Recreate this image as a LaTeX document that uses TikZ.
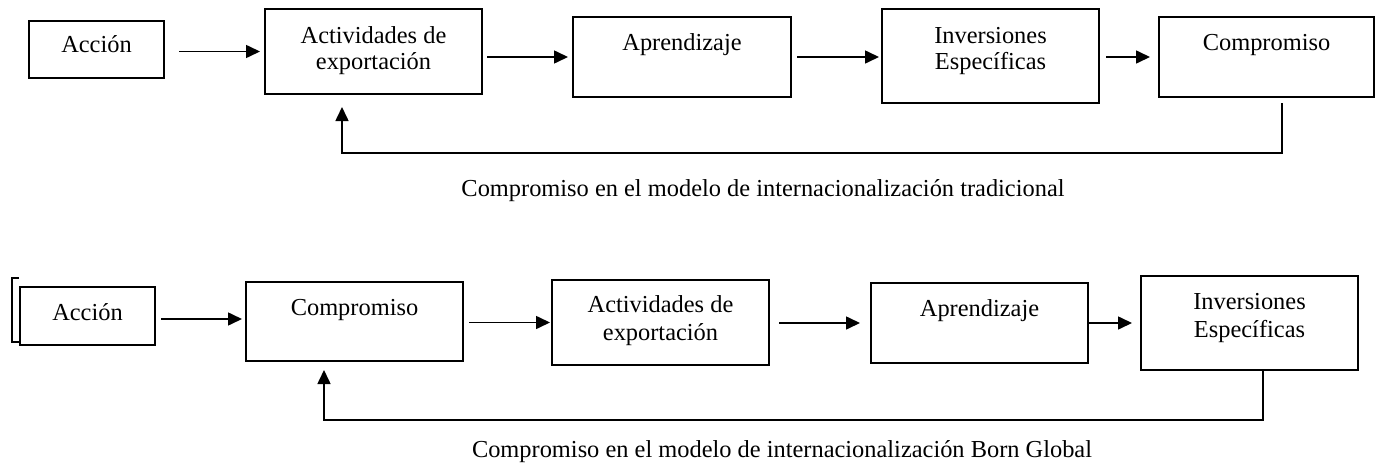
\documentclass[tikz,border=0pt]{standalone}
\usepackage{fontspec}
\setmainfont{Liberation Serif}
\usetikzlibrary{arrows.meta}
\begin{document}
\begin{tikzpicture}[x=1pt,y=-1pt,
  box/.style={draw=black,line width=1.6pt,inner sep=0pt,outer sep=0pt},
  txt/.style={anchor=base,inner sep=0pt,font=\fontsize{24.4}{28}\selectfont},
  arr/.style={line width=1.6pt,-{Triangle[length=14pt,width=13pt]}},
  fb/.style={line width=1.6pt}]
\useasboundingbox (0,0) rectangle (1376,463);
% ---------- top row ----------
\node[box,minimum width=135pt,minimum height=57pt] (A1) at (96.5,49.5) {};
\node[box,minimum width=217pt,minimum height=85pt] (B1) at (373.5,51.5) {};
\node[box,minimum width=218pt,minimum height=80pt] (C1) at (682,57) {};
\node[box,minimum width=217pt,minimum height=94pt] (D1) at (990.5,56) {};
\node[box,minimum width=215pt,minimum height=80pt] (E1) at (1266.5,57) {};
\node[txt] (A1t) at (96.5,52) {Acción};
\node[txt] (B1t1) at (373.5,43) {Actividades de};
\node[txt] (B1t2) at (373.5,69.5) {exportación};
\node[txt] (C1t) at (682,50) {Aprendizaje};
\node[txt] (D1t1) at (990.5,43) {Inversiones};
\node[txt] (D1t2) at (990.5,69) {Específicas};
\node[txt] (E1t) at (1266.5,50) {Compromiso};
\draw[arr,shorten <=15pt,shorten >=5pt] (A1.east |- B1.west) -- (B1.west);
\draw[arr,shorten <=5pt,shorten >=5pt] (B1.east |- C1.west) -- (C1.west);
\draw[arr,shorten <=6pt,shorten >=3pt] (C1.east) -- (C1.east -| D1.west);
\draw[arr,shorten <=7pt,shorten >=9pt] (D1.east |- E1.west) -- (E1.west);
\coordinate (t1) at (1282,153);
\coordinate (t2) at (342,153);
\draw[arr,shorten <=6pt,shorten >=13pt] (E1.south -| t1) -- (t1) -- (t2) -- (B1.south -| t2);
\node[txt] (cap1) at (763,196) {Compromiso en el modelo de internacionalización tradicional};
% ---------- bottom row ----------
\node[box,minimum width=135pt,minimum height=58pt] (A2) at (87.5,316) {};
\node[box,minimum width=217pt,minimum height=79pt] (B2) at (354.5,321.5) {};
\node[box,minimum width=217pt,minimum height=85pt] (C2) at (660.5,322.5) {};
\node[box,minimum width=217pt,minimum height=80pt] (D2) at (979.5,323) {};
\node[box,minimum width=217pt,minimum height=94pt] (E2) at (1249.5,323) {};
\draw[line width=1.6pt] (19,278) -- (12,278) -- (12,342) -- (19,342);
\node[txt] (A2t) at (87.5,320) {Acción};
\node[txt] (B2t) at (354.5,315) {Compromiso};
\node[txt] (C2t1) at (660.5,312) {Actividades de};
\node[txt] (C2t2) at (660.5,340) {exportación};
\node[txt] (D2t) at (979.5,316) {Aprendizaje};
\node[txt] (E2t1) at (1249.5,309) {Inversiones};
\node[txt] (E2t2) at (1249.5,337) {Específicas};
\draw[arr,shorten <=6pt,shorten >=4pt] ([yshift=-3pt]A2.east) -- ([yshift=-3pt]A2.east -| B2.west);
\draw[arr,shorten <=6pt,shorten >=2pt] (B2.east |- C2.west) -- (C2.west);
\draw[arr,shorten <=10pt,shorten >=11pt] (C2.east |- D2.west) -- (D2.west);
\draw[arr,shorten <=1pt,shorten >=9pt] (D2.east) -- (D2.east -| E2.west);
\coordinate (b1) at (1263,420);
\coordinate (b2) at (324,420);
\draw[arr,shorten >=9pt] (E2.south -| b1) -- (b1) -- (b2) -- (B2.south -| b2);
\node[txt] (cap2) at (782,457) {Compromiso en el modelo de internacionalización Born Global};
\end{tikzpicture}
\end{document}
